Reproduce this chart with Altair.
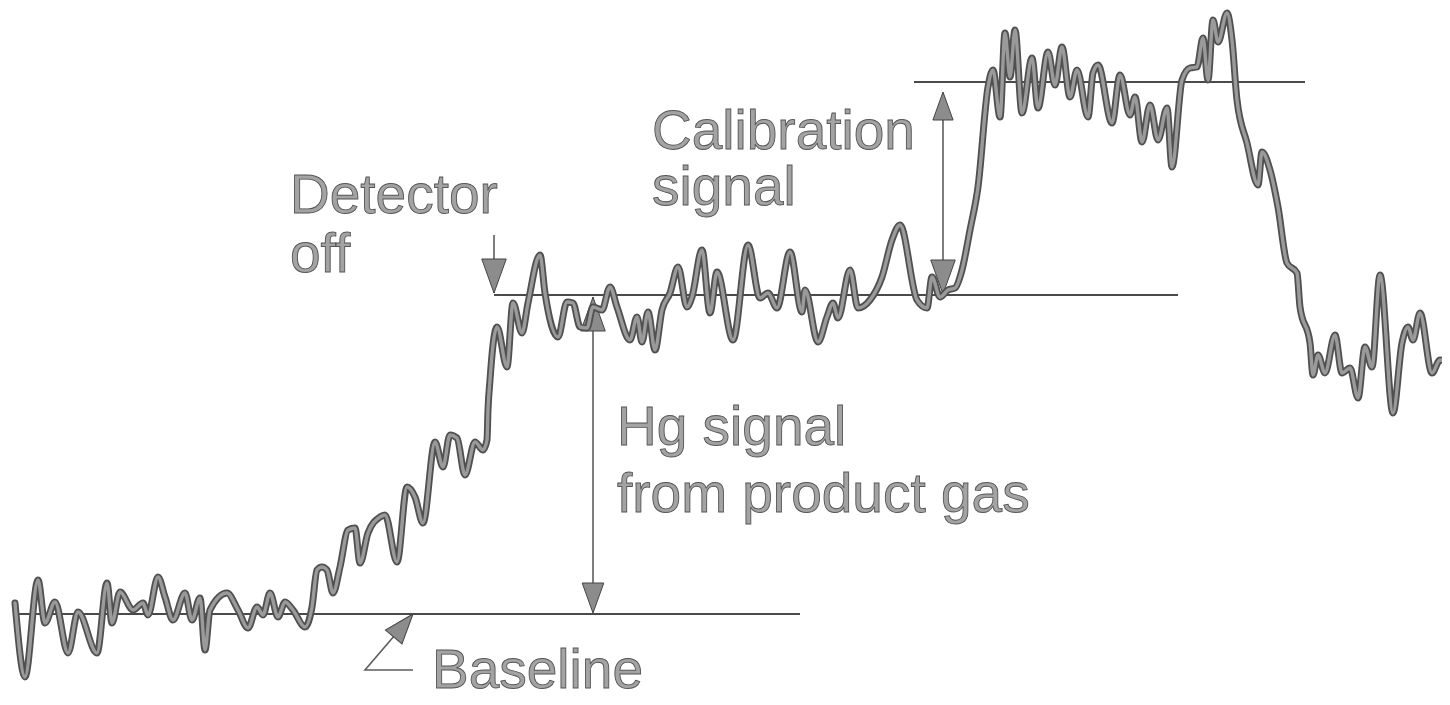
import altair as alt
import pandas as pd

# ---- recorder trace (pixel-space readings from the reference) ----
trace_x = [15, 25, 38, 45, 55, 68, 78, 97, 107, 112, 120, 133, 143, 148, 158, 165, 173, 185, 192, 200,
           205, 210, 227, 238, 248, 257, 263, 270, 278, 285, 293, 305, 312, 317, 322, 327, 333, 340, 348, 355,
           360, 368, 380, 385, 397, 407, 415, 423, 435, 443, 450, 457, 465, 475, 483, 487, 488, 490, 493, 497,
           507, 513, 522, 528, 540, 545, 558, 567, 573, 580, 587, 593, 602, 610, 617, 630, 637, 642, 648, 655,
           662, 670, 678, 687, 692, 702, 710, 717, 733, 748, 760, 768, 777, 790, 802, 805, 818, 827, 833, 838,
           850, 858, 870, 882, 892, 900, 917, 927, 932, 940, 948, 955, 962, 970, 978, 988, 993, 1000, 1005, 1010,
           1015, 1022, 1032, 1038, 1048, 1055, 1062, 1070, 1077, 1088, 1093, 1098, 1112, 1120, 1130, 1135, 1142, 1150, 1158, 1167,
           1172, 1182, 1190, 1197, 1203, 1208, 1213, 1218, 1227, 1232, 1237, 1247, 1258, 1262, 1270, 1278, 1287, 1297, 1300, 1310,
           1313, 1318, 1325, 1335, 1342, 1350, 1358, 1365, 1372, 1380, 1393, 1402, 1408, 1413, 1420, 1432, 1440, 1450]
trace_y = [603, 677, 580, 623, 602, 653, 612, 653, 583, 623, 592, 610, 603, 615, 577, 597, 620, 593, 620, 598,
           650, 610, 593, 610, 628, 607, 615, 593, 617, 602, 610, 627, 607, 570, 567, 570, 593, 567, 530, 528,
           563, 533, 517, 515, 562, 487, 497, 523, 442, 467, 435, 438, 475, 442, 450, 440, 410, 380, 345, 327,
           367, 303, 333, 303, 255, 293, 337, 302, 303, 327, 328, 307, 310, 287, 307, 340, 317, 342, 312, 350,
           310, 293, 267, 307, 297, 250, 313, 272, 340, 245, 298, 293, 308, 252, 312, 290, 342, 317, 303, 318,
           270, 308, 300, 277, 240, 225, 300, 308, 277, 297, 290, 288, 270, 230, 187, 87, 70, 117, 33, 77,
           30, 113, 58, 108, 52, 85, 47, 97, 70, 117, 73, 65, 123, 75, 115, 97, 142, 105, 140, 108,
           167, 80, 68, 67, 38, 80, 20, 42, 13, 40, 100, 143, 185, 152, 170, 207, 263, 273, 307, 343,
           375, 355, 373, 335, 373, 368, 398, 347, 367, 275, 413, 343, 327, 340, 313, 373, 360, 363]

# ---- horizontal reference levels: baseline, detector off, calibration ----
level_y = [614, 295, 82]
level_x0 = [15, 494, 914]
level_x1 = [800, 1178, 1305]

# ---- arrow shafts (polylines) ----
shaft_id = ["hg", "hg", "cal", "cal", "det", "det", "base", "base", "base"]
shaft_x = [593, 593, 943, 943, 494, 494, 413, 365, 413]
shaft_y = [297, 612, 93, 294, 235, 293, 614, 670, 670]

# ---- arrow heads: tip position, rotation (0 = pointing down), length ----
head_x = [494, 593, 593, 943, 943, 413]
head_y = [293, 297, 613, 92, 294, 614]
head_angle = [0, 180, 0, 180, 0, 220]
head_len = [34, 34, 30, 28, 34, 30]

# ---- labels ----
label_text = ["Calibration", "signal", "Detector", "off", "Hg signal", "from product gas", "Baseline"]
label_x = [652, 652, 290, 290, 617, 617, 432]
label_y = [149, 205, 213, 272, 445, 512, 688]

W, H = 1434, 696
xs = alt.Scale(domain=[8, 8 + W], nice=False, zero=False)
ys = alt.Scale(domain=[8, 8 + H], nice=False, zero=False, reverse=True)
X = lambda f: alt.X(f, type="quantitative", scale=xs, axis=None)
Y = lambda f: alt.Y(f, type="quantitative", scale=ys, axis=None)

trace = pd.DataFrame({"x": trace_x, "y": trace_y, "i": range(len(trace_x))})
levels = pd.DataFrame({"x": level_x0, "x2": level_x1, "y": level_y})
shafts = pd.DataFrame({"id": shaft_id, "x": shaft_x, "y": shaft_y, "i": range(len(shaft_x))})
heads = pd.DataFrame({"x": head_x, "y": head_y, "angle": head_angle,
                      "size": [l * l for l in head_len]})
labels = pd.DataFrame({"t": label_text, "x": label_x, "y": label_y})

level_layer = alt.Chart(levels).mark_rule(color="#4a4a4a", strokeWidth=2.2).encode(
    x=X("x"), x2="x2", y=Y("y"))

shaft_layer = alt.Chart(shafts).mark_line(color="#5e5e5e", strokeWidth=1.6).encode(
    x=X("x"), y=Y("y"), detail="id:N", order="i:Q")

head_layer = alt.Chart(heads).mark_point(
    shape="M0,0L-0.72,-2L0.72,-2Z", filled=True, fill="#8c8c8c", stroke="#444444",
    strokeWidth=1, opacity=1).encode(
    x=X("x"), y=Y("y"),
    angle=alt.Angle("angle:Q", scale=None),
    size=alt.Size("size:Q", scale=None))

trace_outer = alt.Chart(trace).mark_line(
    color="#505050", strokeWidth=7, strokeJoin="round", strokeCap="round",
    interpolate="monotone", clip=True).encode(x=X("x"), y=Y("y"), order="i:Q")
trace_inner = alt.Chart(trace).mark_line(
    color="#9a9a9a", strokeWidth=3.4, strokeJoin="round", strokeCap="round",
    interpolate="monotone", clip=True).encode(x=X("x"), y=Y("y"), order="i:Q")

text_layer = alt.Chart(labels).mark_text(
    align="left", baseline="alphabetic", font="Liberation Sans", fontSize=55,
    fill="#a3a3a3", stroke="#555555", strokeWidth=0.9).encode(
    x=X("x"), y=Y("y"), text="t:N")

chart = alt.layer(level_layer, shaft_layer, head_layer, trace_outer, trace_inner, text_layer).properties(
    width=W, height=H, padding=0, autosize=alt.AutoSizeParams(type="none"),
    background="white"
).configure_view(stroke=None)

chart.save("out.html", embed_options={"renderer": "svg", "actions": False})
